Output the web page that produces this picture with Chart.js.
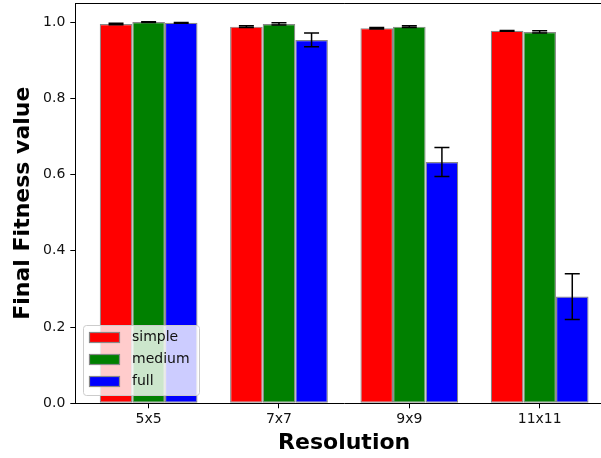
<!DOCTYPE html>
<html>
<head>
<meta charset="utf-8">
<script src="https://cdn.jsdelivr.net/npm/chart.js@4.4.0/dist/chart.umd.min.js"></script>
<style>
  html, body { margin: 0; padding: 0; background: #fff; overflow: hidden; }
  #wrap { width: 601px; height: 458px; overflow: hidden; }
</style>
</head>
<body>
<div id="wrap"><canvas id="grafico" width="620" height="458"></canvas></div>
<script>
// datos
const categorias = ['5x5', '7x7', '9x9', '11x11'];
const simpleVals = [0.995, 0.988, 0.984, 0.977];
const mediumVals = [1.000, 0.995, 0.988, 0.974];
const fullVals   = [0.998, 0.953, 0.633, 0.280];
const simpleErr  = [0.002, 0.002, 0.002, 0.001];
const mediumErr  = [0.001, 0.003, 0.002, 0.003];
const fullErr    = [0.001, 0.018, 0.038, 0.060];
const yTicks = [0, 0.2, 0.4, 0.6, 0.8, 1.0];
const xTicks = [0, 1, 2, 3];

const fuente = 'DejaVu Sans';

function puntos(vals){
    return vals.map((v, i) => ({x: i, y: v}));
}

// barras de error
const errorBars = {
    id: 'errorBars',
    afterDatasetsDraw(chart){
        const ctx = chart.ctx;
        const ys = chart.scales.y;
        ctx.save();
        ctx.strokeStyle = '#000';
        ctx.lineWidth = 1.5;
        chart.data.datasets.forEach((ds, i) => {
            const meta = chart.getDatasetMeta(i);
            meta.data.forEach((bar, j) => {
                const v = ds.data[j].y, e = ds.errores[j];
                const y1 = ys.getPixelForValue(v + e);
                const y2 = ys.getPixelForValue(v - e);
                ctx.beginPath();
                ctx.moveTo(bar.x, y1); ctx.lineTo(bar.x, y2);
                ctx.moveTo(bar.x - 7.5, y1); ctx.lineTo(bar.x + 7.5, y1);
                ctx.moveTo(bar.x - 7.5, y2); ctx.lineTo(bar.x + 7.5, y2);
                ctx.stroke();
            });
        });
        ctx.restore();
    }
};

// marco superior/derecho y leyenda dentro del grafico
const marcoLeyenda = {
    id: 'marcoLeyenda',
    afterDraw(chart){
        const ctx = chart.ctx;
        const a = chart.chartArea;
        ctx.save();
        ctx.strokeStyle = '#000';
        ctx.lineWidth = 1;
        ctx.beginPath();
        ctx.moveTo(a.left, a.top + 0.5); ctx.lineTo(a.right, a.top + 0.5);
        ctx.lineTo(a.right, a.bottom);
        ctx.stroke();

        // leyenda
        const x0 = 83, y0 = 325, w = 116, h = 70, r = 3;
        ctx.beginPath();
        ctx.roundRect(x0 + 0.5, y0 + 0.5, w, h, r);
        ctx.fillStyle = 'rgba(255,255,255,0.8)';
        ctx.fill();
        ctx.strokeStyle = '#cccccc';
        ctx.stroke();
        ctx.font = '14px "' + fuente + '"';
        ctx.textBaseline = 'middle';
        chart.data.datasets.forEach((ds, i) => {
            const cy = 337 + i * 22;
            ctx.fillStyle = ds.backgroundColor;
            ctx.fillRect(89, cy - 5, 31, 10);
            ctx.strokeStyle = '#888888';
            ctx.lineWidth = 1.2;
            ctx.strokeRect(89.5, cy - 4.5, 30, 10);
            ctx.fillStyle = '#111';
            ctx.fillText(ds.label, 132, cy);
        });
        ctx.restore();
    }
};

const ctx = document.getElementById('grafico');

new Chart(ctx, {
    type: 'bar',
    data: {
        datasets: [
            {label: 'simple', data: puntos(simpleVals), errores: simpleErr, backgroundColor: '#ff0000'},
            {label: 'medium', data: puntos(mediumVals), errores: mediumErr, backgroundColor: '#008000'},
            {label: 'full',   data: puntos(fullVals),   errores: fullErr,   backgroundColor: '#0000ff'}
        ]
    },
    options: {
        responsive: false,
        animation: false,
        devicePixelRatio: 1,
        layout: {padding: {top: 3, left: 0, right: 7, bottom: 0}},
        datasets: {
            bar: {
                categoryPercentage: 0.75,
                barPercentage: 1.0,
                borderColor: '#888888',
                borderWidth: 1.2,
                borderSkipped: false
            }
        },
        plugins: {
            legend: {display: false},
            tooltip: {enabled: false}
        },
        scales: {
            x: {
                type: 'linear',
                min: -0.5625,
                max: 3.5625,
                offset: false,
                afterFit(s){ s.height = 54.7; s.paddingLeft = 0; s.paddingRight = 0; },
                afterBuildTicks(s){ s.ticks = xTicks.map(v => ({value: v})); },
                ticks: {
                    callback: (v) => categorias[v],
                    color: '#111',
                    padding: 3,
                    maxRotation: 0,
                    autoSkip: false,
                    font: {family: fuente, size: 14}
                },
                grid: {offset: false, drawOnChartArea: false, drawTicks: true, tickLength: 5, color: '#000'},
                border: {display: true, color: '#000', width: 1},
                title: {
                    display: true,
                    text: 'Resolution',
                    color: '#000',
                    padding: {top: 0, bottom: 2},
                    font: {family: fuente, size: 22, weight: 'bold'}
                }
            },
            y: {
                min: 0,
                max: 1.05,
                afterFit(s){ s.width = 75.3; s.paddingTop = 0; s.paddingBottom = 0; },
                afterBuildTicks(s){ s.ticks = yTicks.map(v => ({value: v})); },
                ticks: {
                    callback: (v) => v.toFixed(1),
                    color: '#111',
                    padding: 5,
                    font: {family: fuente, size: 14}
                },
                grid: {drawOnChartArea: false, drawTicks: true, tickLength: 5, color: '#000'},
                border: {display: true, color: '#000', width: 1},
                title: {
                    display: true,
                    text: 'Final Fitness value',
                    color: '#000',
                    padding: {top: 10, bottom: 0},
                    font: {family: fuente, size: 22, weight: 'bold'}
                }
            }
        }
    },
    plugins: [errorBars, marcoLeyenda]
});
</script>
</body>
</html>
